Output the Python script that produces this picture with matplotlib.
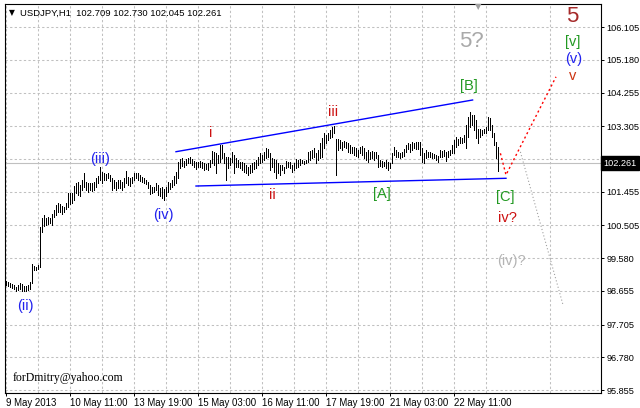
import numpy as np
import matplotlib
matplotlib.use("Agg")
import matplotlib.pyplot as plt
from matplotlib.transforms import blended_transform_factory

plt.rcParams["font.family"] = ["Liberation Sans", "DejaVu Sans"]

# --- USDJPY H1 bar highs / lows, 9 May - 22 May 2013 ---
highs = [
    98.93, 98.90, 98.87, 98.85, 98.82, 98.77, 98.82, 98.88, 98.85, 98.79,
    98.79, 98.82, 98.91, 99.41, 99.36, 99.34, 99.39, 100.47, 100.70, 100.80,
    100.70, 100.75, 100.70, 100.82, 100.94, 101.08, 101.13, 101.11, 101.05, 101.03,
    101.13, 101.41, 101.43, 101.41, 101.62, 101.69, 101.74, 101.64, 101.79, 101.97,
    101.74, 101.69, 101.71, 101.69, 101.74, 101.83, 101.90, 102.16,
    102.02, 101.97, 101.95, 101.97, 101.93, 101.83, 101.79, 101.74, 101.80, 101.79,
    101.74, 101.83, 102.05, 101.88, 101.85, 101.88, 101.99, 101.97, 101.99, 101.93,
    101.88, 101.83, 101.80, 101.74, 101.65, 101.58, 101.60, 101.69, 101.65, 101.55,
    101.58, 101.52, 101.60, 101.74, 101.71, 101.79, 101.90, 102.02, 102.30, 102.37,
    102.40, 102.33, 102.37, 102.40, 102.43, 102.37, 102.33, 102.30, 102.30, 102.33,
    102.30, 102.27, 102.24, 102.26, 102.35, 102.61, 102.59, 102.54, 102.49, 102.77,
    102.77, 102.56, 102.44, 102.44, 102.40, 102.59, 102.49, 102.40, 102.35, 102.30,
    102.30, 102.26, 102.21, 102.16, 102.21, 102.26, 102.30, 102.35, 102.44, 102.54,
    102.49, 102.59, 102.68, 102.65, 102.54, 102.40, 102.37, 102.35, 102.26, 102.21,
    102.21, 102.16, 102.33, 102.30, 102.30, 102.21, 102.26, 102.37, 102.35, 102.37,
    102.35,
    102.33, 102.35, 102.59, 102.61, 102.63, 102.68, 102.54, 102.63, 102.82, 102.96,
    103.12, 103.06, 103.10, 103.20, 103.29, 103.31, 102.93, 102.93, 102.92, 102.87,
    102.90, 102.87, 102.84, 102.77, 102.73, 102.73, 102.68, 102.63, 102.73, 102.75,
    102.68, 102.59, 102.63, 102.59, 102.61, 102.59, 102.59, 102.49, 102.35, 102.33,
    102.30, 102.35, 102.30, 102.26, 102.54, 102.73, 102.63, 102.59, 102.56, 102.59,
    102.65, 102.77, 102.84, 102.80, 102.87, 102.84, 102.87, 102.87, 102.87, 102.68,
    102.54, 102.63, 102.59, 102.59, 102.54, 102.52, 102.49, 102.46, 102.63, 102.61,
    102.63, 102.59, 102.61, 102.63, 102.77, 102.92, 103.01, 102.93, 102.99, 102.96,
    103.06, 103.34, 103.57, 103.72, 103.62, 103.62, 103.48, 103.22, 103.22, 103.20,
    103.22, 103.27, 103.57, 103.53, 103.34, 103.12, 102.87, 102.73,
]
lows = [
    98.82, 98.79, 98.77, 98.73, 98.70, 98.66, 98.68, 98.70, 98.66, 98.64,
    98.66, 98.68, 98.70, 98.87, 99.24, 99.24, 99.26, 99.34, 100.33, 100.49,
    100.51, 100.54, 100.58, 100.51, 100.75, 100.80, 100.89, 100.88, 100.83, 100.89,
    100.96, 101.01, 101.11, 101.14, 101.22, 101.41, 101.36, 101.33, 101.50, 101.60,
    101.50, 101.46, 101.50, 101.48, 101.50, 101.60, 101.69, 101.79,
    101.69, 101.80, 101.79, 101.83, 101.77, 101.50, 101.55, 101.49, 101.55, 101.55,
    101.50, 101.60, 101.69, 101.65, 101.62, 101.69, 101.79, 101.83, 101.80, 101.77,
    101.74, 101.71, 101.67, 101.55, 101.39, 101.43, 101.46, 101.49, 101.36, 101.33,
    101.27, 101.22, 101.33, 101.46, 101.52, 101.58, 101.65, 101.69, 101.83, 102.12,
    102.18, 102.16, 102.21, 102.26, 102.26, 102.21, 102.14, 102.09, 102.16, 102.14,
    102.12, 102.07, 102.09, 102.07, 102.16, 102.26, 102.21, 101.97, 102.26, 102.30,
    102.40, 102.26, 101.80, 102.12, 102.21, 102.30, 101.97, 102.16, 102.16, 102.12,
    102.07, 102.02, 101.97, 101.93, 101.97, 102.02, 102.09, 102.12, 102.21, 102.26,
    102.30, 102.35, 102.40, 102.44, 102.07, 102.16, 102.02, 101.83, 101.97, 101.93,
    102.07, 101.97, 102.12, 102.16, 102.12, 102.02, 102.07, 102.12, 102.16, 102.21,
    102.26,
    102.24, 102.26, 102.30, 102.35, 102.40, 102.43, 102.26, 102.35, 102.40, 102.44,
    102.68, 102.82, 102.92, 102.96, 102.99, 103.12, 101.93, 102.63, 102.68, 102.63,
    102.73, 102.68, 102.59, 102.54, 102.54, 102.49, 102.46, 102.44, 102.54, 102.49,
    102.40, 102.35, 102.30, 102.37, 102.40, 102.35, 102.40, 102.16, 102.18, 102.16,
    102.18, 102.12, 102.07, 102.12, 102.26, 102.49, 102.44, 102.43, 102.40, 102.43,
    102.45, 102.59, 102.65, 102.59, 102.63, 102.68, 102.65, 102.65, 102.49, 102.30,
    102.26, 102.40, 102.44, 102.43, 102.40, 102.40, 102.35, 102.30, 102.43, 102.44,
    102.46, 102.33, 102.44, 102.49, 102.54, 102.54, 102.73, 102.77, 102.82, 102.82,
    102.87, 102.68, 103.01, 103.29, 103.34, 103.20, 102.96, 102.82, 103.01, 103.06,
    103.10, 103.12, 103.20, 103.20, 103.01, 102.77, 102.40, 102.045,
]

last_price = 102.261
header = "USDJPY,H1  102.709 102.730 102.045 102.261"

date_labels = ["9 May 2013", "10 May 11:00", "13 May 19:00", "15 May 03:00",
               "16 May 11:00", "17 May 19:00", "21 May 03:00", "22 May 11:00"]
date_bars = [0, 32, 64, 96, 128, 160, 192, 224]
price_ticks = [95.855, 96.780, 97.705, 98.655, 99.580, 100.505,
               101.455, 102.380, 103.305, 104.255, 105.180, 106.105]

# trend lines / projections: (bar index, price)
upper_x, upper_p = [85.0, 233.3], [102.585, 104.045]
lower_x, lower_p = [95.0, 250.0], [101.616, 101.834]
red_x, red_p = [247.2, 250.0, 275.0], [102.54, 101.93, 104.70]
gray_x, gray_p = [257.2, 278.5], [102.58, 98.26]

# wave marks: text, bar index, price, colour, size
waves = [
    ("(ii)", 9.5, 98.23, "#2222ee", 10.5),
    ("(iii)", 46.8, 102.39, "#2222ee", 10.5),
    ("(iv)", 78.5, 100.80, "#2222ee", 10.5),
    ("i", 102.3, 103.11, "#cc1111", 10.5),
    ("ii", 133.3, 101.36, "#cc1111", 10.5),
    ("iii", 163.3, 103.72, "#cc1111", 10.5),
    ("[A]", 188.0, 101.38, "#229922", 10.5),
    ("[B]", 231.3, 104.44, "#229922", 10.5),
    ("[C]", 249.8, 101.31, "#229922", 10.5),
    ("iv?", 250.5, 100.70, "#cc1111", 10.5),
    ("(iv)?", 252.5, 99.50, "#b4b4b4", 10.5),
    ("5?", 232.5, 105.71, "#a9a9a9", 16),
    ("5", 283.3, 106.40, "#a52a2a", 16),
    ("[v]", 283.3, 105.68, "#229922", 10.5),
    ("(v)", 283.8, 105.19, "#2222ee", 10.5),
    ("v", 283.3, 104.72, "#cc3311", 10.5),
]

fig = plt.figure(figsize=(6.4, 4.08), dpi=100, facecolor="white")
ax = fig.add_axes([5 / 640, 15 / 408, 596 / 640, 389 / 408])
ax.set_xlim(-0.5, 297.5)
ax.set_ylim(95.771, 106.756)

# grid
ax.set_xticks(date_bars)
ax.set_xticklabels(date_labels, ha="left")
ax.set_xticks(np.arange(16, 289, 32), minor=True)
ax.set_yticks(price_ticks)
ax.set_yticklabels([f"{v:.3f}" for v in price_ticks])
ax.yaxis.tick_right()
ax.tick_params(axis="both", length=2.5, width=0.7, color="black")
ax.tick_params(axis="x", which="minor", length=0)
ax.tick_params(axis="x", pad=1, labelsize=6.9)
ax.tick_params(axis="y", pad=1.5, labelsize=6.6)
ax.grid(True, which="both", color="#c0c0c0", lw=0.75, ls=(0, (2.2, 2.2)))
ax.set_axisbelow(True)
for s in ax.spines.values():
    s.set_linewidth(0.8)

# current price line
ax.axhline(last_price, color="#c0c0c0", lw=0.8, zorder=1)

# bars
x = np.arange(len(highs))
ax.vlines(x, lows, highs, color="black", lw=0.62, antialiased=False, zorder=3)

# trend lines and projections
ax.plot(upper_x, upper_p, color="#0000ff", lw=1.0, zorder=2)
ax.plot(lower_x, lower_p, color="#0000ff", lw=1.0, zorder=2)
ax.plot(red_x, red_p, color="red", lw=1.0, ls=(0, (1.5, 2)), zorder=2)
ax.plot(gray_x, gray_p, color="#a0a0a0", lw=0.8, ls=(0, (1, 2)), zorder=2)

for txt, xi, p, c, fs in waves:
    ax.text(xi, p, txt, color=c, fontsize=fs, ha="center", va="center", zorder=4)

# price label on right axis
trans = blended_transform_factory(ax.transAxes, ax.transData)
ax.text(1.004, last_price, f"{last_price:.3f}", transform=trans, color="white",
        fontsize=6.6, ha="left", va="center", clip_on=False, zorder=10,
        bbox=dict(boxstyle="square,pad=0.25", fc="black", ec="black"))

# header and watermark
fig.text(12 / 640, 1 - 13 / 408, "\u25bc", fontsize=5.5, family="DejaVu Sans",
         ha="center", va="center")
fig.text(20 / 640, 1 - 13 / 408, header, fontsize=6.8, va="center")
fig.text(478 / 640, 1 - 7 / 408, "\u25bc", fontsize=6, family="DejaVu Sans",
         color="#a0a0a0", ha="center", va="center")
fig.text(13 / 640, 1 - 378 / 408, "forDmitry@yahoo.com", fontsize=8.5,
         family="Liberation Serif", va="center")

fig.savefig("out.png", dpi=100, facecolor="white")
plt.close(fig)
